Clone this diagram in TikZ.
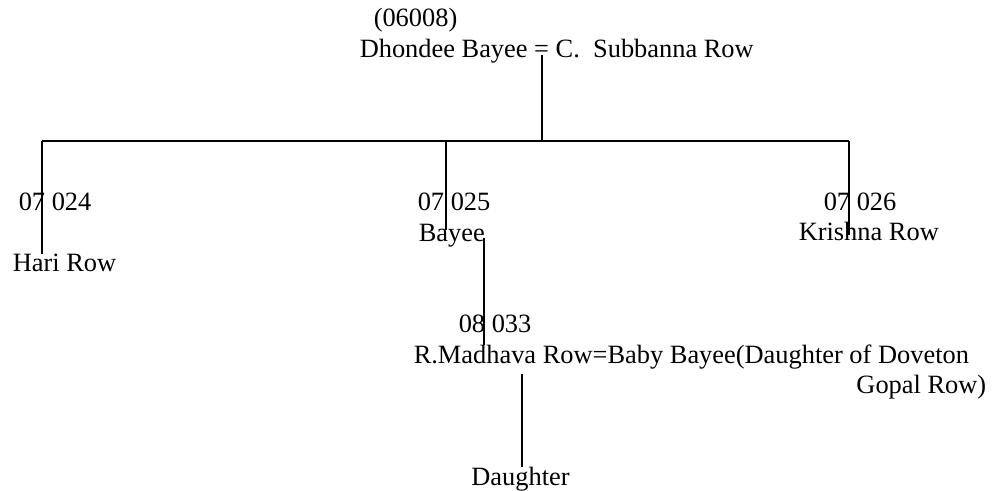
\documentclass[tikz,border=0pt]{standalone}
\usepackage{fontspec}
\setmainfont{Liberation Serif}
\usepackage{tikz}
\usetikzlibrary{positioning}

\begin{document}
\begin{tikzpicture}[x=1pt,y=-1pt,line width=1.5pt,font=\fontsize{26.4}{30}\selectfont]
	\tikzset{every node/.style={inner sep=0pt,anchor=base west}}
	\useasboundingbox (0,0) rectangle (992,490);
	\node (id0) at (373,26) {(06008)};
	\node (p0) at (359,57) {Dhondee Bayee = C.\ \ Subbanna Row};
	\node (id1) at (18,210) {07 024};
	\node (p1) at (12,271) {Hari Row};
	\node (id2) at (417,210) {07 025};
	\node (p2) at (418,241) {Bayee};
	\node (id3) at (823,210) {07 026};
	\node (p3) at (798,240) {Krishna Row};
	\node (id4) at (458,332) {08 033};
	\node (p4) at (413,363) {R.Madhava Row=Baby Bayee(Daughter of Doveton};
	\node[anchor=base east] (p4b) at (987,393) {Gopal Row)};
	\node[anchor=base] (p5) at (520.5,485) {Daughter};
	\coordinate (m0) at (542,55);
	\coordinate (j0) at (542,141);
	\coordinate (bl) at (42,141);
	\coordinate (bm) at (446,141);
	\coordinate (br) at (849,141);
	\coordinate (e1) at (42,254);
	\coordinate (e2) at (446,230);
	\coordinate (e3) at (849,235);
	\coordinate (s2) at (484,238);
	\coordinate (e4) at (484,345);
	\coordinate (s4) at (522,374);
	\coordinate (e5) at (522,467);
	\draw (m0) -- (j0);
	\draw (bl) -- (br);
	\draw (bl) -- (e1);
	\draw (bm) -- (e2);
	\draw (br) -- (e3);
	\draw (s2) -- (e4);
	\draw (s4) -- (e5);
\end{tikzpicture}
\end{document}
